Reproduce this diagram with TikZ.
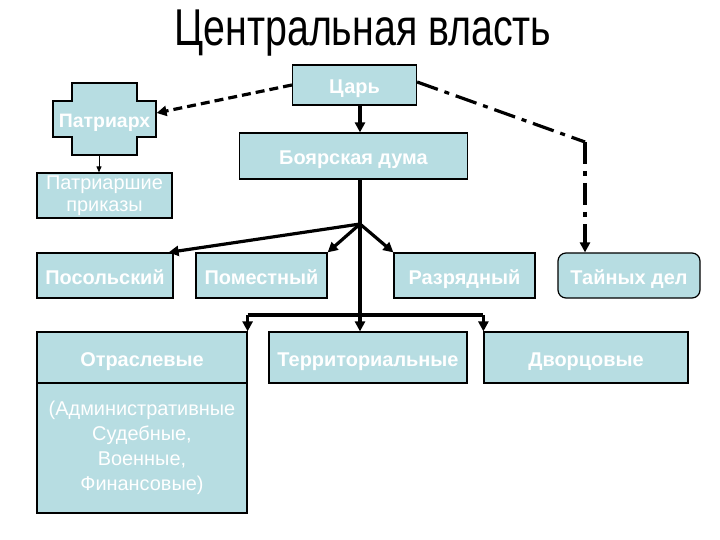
\documentclass[tikz,border=0pt]{standalone}
\usepackage{fontspec}
\setmainfont{Liberation Sans}
\newfontfamily\titlefont[FakeStretch=0.76]{Liberation Sans}
\usepackage{tikz}
\usetikzlibrary{arrows.meta}

\definecolor{boxblue}{RGB}{183,221,226}

\tikzset{
  boxbase/.style={draw=black, line width=1.2bp, fill=boxblue, text=white, inner sep=0pt, align=center},
  box/.style={boxbase, text height=18bp, text depth=0bp, font=\bfseries\fontsize{20}{24}\selectfont},
  plainbox/.style={boxbase, font=\fontsize{20}{25}\selectfont},
  arr/.style={line width=3.2bp, -{Triangle[length=10bp,width=10bp]}},
  thinarr/.style={line width=1bp, -{Triangle[length=6bp,width=5bp]}}
}

\begin{document}
\begin{tikzpicture}[x=1bp,y=-1bp]
        \useasboundingbox (0,0) rectangle (720,540);

        \node[font=\titlefont\fontsize{52}{60}\selectfont] (title) at (363,33) {Центральная власть};

        \draw[line width=1.2bp, fill=boxblue] (72,83) -- (137,83) -- (137,101) -- (156,101) -- (156,137)
            -- (137,137) -- (137,155) -- (72,155) -- (72,137) -- (53,137) -- (53,101) -- (72,101) -- cycle;
        \node[box, draw=none, fill=none, minimum width=103bp, minimum height=72bp,
              font=\bfseries\fontsize{19.5}{22}\selectfont] (patr) at (104.5,119) {Патриарх};

        \node[box, minimum width=124bp, minimum height=40bp] (tsar) at (354.5,85) {Царь};
        \node[box, minimum width=228bp, minimum height=46bp] (duma) at (353.5,156) {Боярская дума};
        \node[plainbox, minimum width=135bp, minimum height=45bp, font=\fontsize{20}{22}\selectfont]
            (prikaz) at (104.5,195.5) {Патриаршие\\приказы};

        \node[box, minimum width=136bp, minimum height=45bp] (posol) at (105,275.5) {Посольский};
        \node[box, minimum width=131bp, minimum height=45bp] (pomest) at (261.5,275.5) {Поместный};
        \node[box, minimum width=141bp, minimum height=45bp] (razr) at (464.5,275.5) {Разрядный};
        \node[box, rounded corners=8bp, minimum width=142bp, minimum height=45bp] (tain) at (629,275.5) {Тайных дел};

        \node[box, minimum width=210bp, minimum height=51bp] (otr) at (142,357.5) {Отраслевые};
        \node[plainbox, minimum width=210bp, minimum height=130bp] (otrsub) at (142,448)
            {(Административные\\Судебные,\\Военные,\\Финансовые)};
        \node[box, minimum width=198bp, minimum height=51bp] (terr) at (368,357.5) {Территориальные};
        \node[box, minimum width=204bp, minimum height=51bp] (dvor) at (586,357.5) {Дворцовые};

        \coordinate (hub) at (360,224);
        \coordinate (bus) at (360,315);
        \coordinate (bend) at (585,142);

        \draw[arr, dash pattern=on 9bp off 5bp] (tsar.west) -- ([yshift=6bp]patr.east);
        \draw[arr, -, dash pattern=on 22bp off 7bp on 5bp off 7bp] ([yshift=3bp]tsar.east) -- (bend);
        \draw[arr, dash pattern=on 22bp off 7bp on 5bp off 7bp] (bend) -- (tain.north -| bend);
        \draw[thinarr] (patr.south -| 99,0) -- (prikaz.north -| 99,0);

        \draw[arr] (tsar.south -| hub) -- (duma.north -| hub);
        \draw[line width=3.2bp] (duma.south -| hub) -- (bus);
        \draw[arr] (hub) -- ([xshift=-5bp]posol.north east);
        \draw[arr] (hub) -- (pomest.north east);
        \draw[arr] (hub) -- (razr.north west);

        \draw[line width=3.2bp] (otr.north east |- bus) -- (dvor.north west |- bus);
        \draw[arr] (otr.north east |- bus) -- (otr.north east);
        \draw[arr] (bus) -- (terr.north -| bus);
        \draw[arr] (dvor.north west |- bus) -- (dvor.north west);
    \end{tikzpicture}
\end{document}
